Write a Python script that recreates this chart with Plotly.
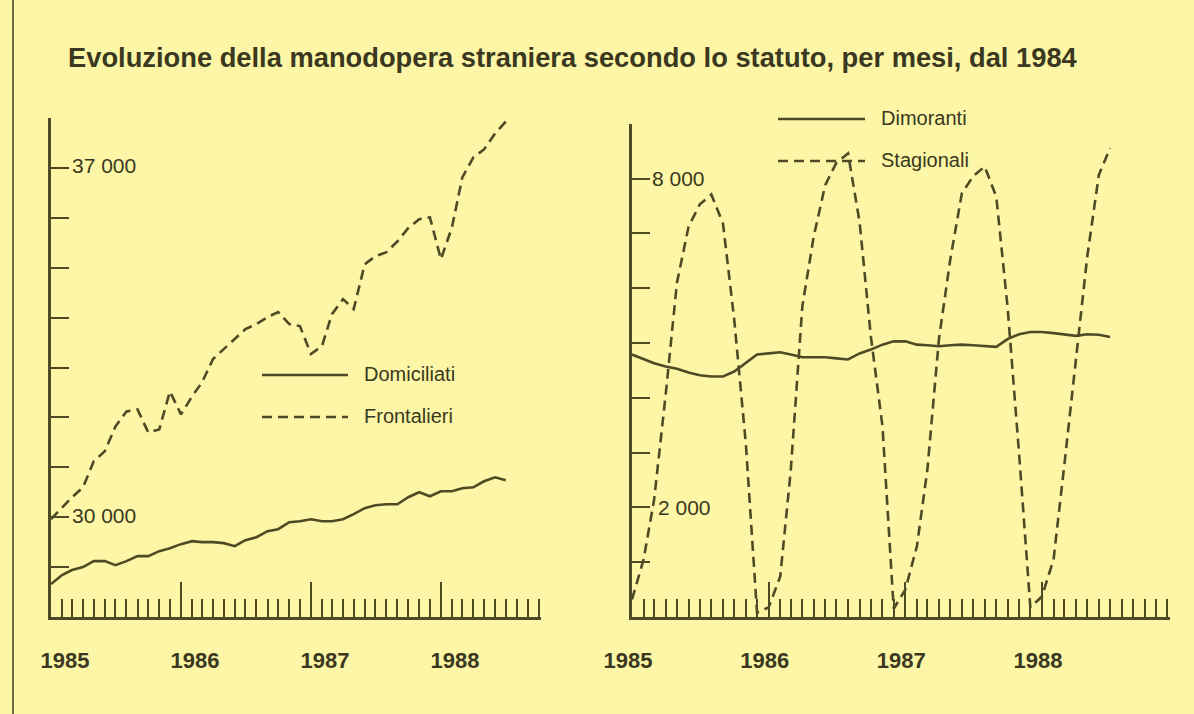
import pandas as pd
import plotly.graph_objects as go
from plotly.subplots import make_subplots


# Data (monthly, Jan 1985 - Jul 1988)
months = pd.date_range("1985-01-01", periods=43, freq="MS").strftime("%Y-%m-%d").tolist()

# left panel: Domiciliati / Frontalieri
domiciliati = [28660, 28840, 28940, 29000, 29120, 29120, 29040, 29120, 29220, 29220, 29320, 29380,
               29460, 29520, 29500, 29500, 29480, 29420, 29540, 29600, 29720, 29760, 29900, 29920,
               29960, 29920, 29920, 29960, 30060, 30180, 30240, 30260, 30260, 30400, 30500, 30420,
               30520, 30520, 30580, 30600, 30720, 30800, 30740]
frontalieri = [29960, 30200, 30400, 30600, 31120, 31320, 31820, 32120, 32160, 31700, 31760, 32520,
               32060, 32420, 32700, 33170, 33370, 33570, 33770, 33870, 34010, 34110, 33870, 33830,
               33270, 33430, 34070, 34370, 34170, 35070, 35230, 35310, 35530, 35790, 35970, 36010,
               35170, 35810, 36810, 37210, 37370, 37690, 37930]

# right panel: Dimoranti / Stagionali
dimoranti = [4790, 4700, 4630, 4570, 4530, 4460, 4410, 4390, 4390, 4480, 4640, 4790,
             4810, 4830, 4790, 4740, 4740, 4740, 4720, 4700, 4810, 4880, 4970, 5030,
             5030, 4970, 4960, 4940, 4960, 4970, 4960, 4940, 4930, 5070, 5160, 5200,
             5200, 5180, 5150, 5130, 5160, 5150, 5110]
stagionali = [320, 1050, 2140, 4060, 6100, 7120, 7530, 7710, 7180, 5430, 3170, 80,
              175, 740, 2670, 5670, 6930, 7880, 8290, 8460, 7200, 5120, 3480, 150,
              500, 1290, 2690, 5080, 6520, 7730, 8040, 8220, 7670, 5670, 2970, 175,
              375, 1050, 2790, 4710, 6580, 8070, 8560]

left_labels = {37000: "37 000", 30000: "30 000"}
right_labels = {8000: "8 000", 2000: "2 000"}

title = "Evoluzione della manodopera straniera secondo lo statuto, per mesi, dal 1984"

# Colors
bg = "#FCF6A6"
ink = "#4F4A26"
text_ink = "#3A3820"
dash = "10px,6px"
font = "Liberation Sans, Arial, sans-serif"

fig = make_subplots(rows=1, cols=2)

fig.add_trace(go.Scatter(x=months, y=domiciliati, mode="lines", name="Domiciliati",
                         line=dict(color=ink, width=2.6)), row=1, col=1)
fig.add_trace(go.Scatter(x=months, y=frontalieri, mode="lines", name="Frontalieri",
                         line=dict(color=ink, width=2.6, dash=dash)), row=1, col=1)
fig.add_trace(go.Scatter(x=months, y=dimoranti, mode="lines", name="Dimoranti",
                         line=dict(color=ink, width=2.6)), row=1, col=2)
fig.add_trace(go.Scatter(x=months, y=stagionali, mode="lines", name="Stagionali",
                         line=dict(color=ink, width=2.6, dash=dash)), row=1, col=2)

W, H = 1194, 714


def px(x):
    return x / W


def py(y):
    return (H - y) / H


# x axes: monthly minor ticks, taller yearly ticks
xcommon = dict(type="date", showgrid=False, zeroline=False, showline=True, linecolor=ink, linewidth=2.5,
               ticks="inside", ticklen=35, tickwidth=2, tickcolor=ink, dtick="M12", tick0="1985-01-01",
               tickformat="%Y", ticklabelstandoff=22, automargin=False,
               tickfont=dict(size=22, color=text_ink, family=font, weight="bold"),
               minor=dict(ticks="inside", dtick="M1", tick0="1985-01-01", ticklen=18, tickwidth=2,
                          tickcolor=ink, showgrid=False))
fig.update_xaxes(xcommon)
fig.update_xaxes(domain=[px(51), px(541)], range=["1985-01-01", "1988-10-08"],
                 ticklabelshift=14, row=1, col=1)
fig.update_xaxes(domain=[px(632), px(1170)], range=["1985-01-01", "1988-12-08"],
                 ticklabelshift=-4, row=1, col=2)

ycommon = dict(showgrid=False, zeroline=False, showline=True, linecolor=ink, linewidth=2.5,
               ticks="inside", ticklen=18, tickwidth=2, tickcolor=ink, dtick=1000,
               showticklabels=False, automargin=False)
fig.update_yaxes(ycommon)
fig.update_yaxes(domain=[py(617), py(118)], range=[28000, 38000], row=1, col=1)
fig.update_yaxes(domain=[py(617), py(123.8)], range=[0, 9000], row=1, col=2)

# y value labels sitting inside the axes
annotations = []
for v, t in left_labels.items():
    annotations.append(dict(text=t, xref="x domain", x=0, yref="y", y=v, xanchor="left", yanchor="middle",
                            xshift=19, yshift=2, showarrow=False,
                            font=dict(size=21, color=text_ink, family=font)))
for v, t in right_labels.items():
    annotations.append(dict(text=t, xref="x2 domain", x=0, yref="y2", y=v, xanchor="left", yanchor="middle",
                            xshift=18 if v == 8000 else 24, showarrow=False,
                            font=dict(size=21, color=text_ink, family=font)))

# Title
annotations.append(dict(text=title, xref="paper", yref="paper", x=px(66), y=py(57), xanchor="left",
                        yanchor="middle", showarrow=False,
                        font=dict(size=27.3, color=text_ink, family=font, weight="bold")))

# hand-drawn legends
shapes = []
legend_items = [("Domiciliati", None, 262, 348, 375), ("Frontalieri", dash, 262, 348, 417),
                ("Dimoranti", None, 778, 865, 119), ("Stagionali", dash, 778, 865, 161)]
for name, d, x0, x1, y in legend_items:
    shapes.append(dict(type="line", xref="paper", yref="paper", x0=px(x0), x1=px(x1), y0=py(y), y1=py(y),
                       line=dict(color=ink, width=2.5, dash=d if d else "solid")))
    annotations.append(dict(text=name, xref="paper", yref="paper", x=px(x1 + 14), y=py(y - 1),
                            xanchor="left", yanchor="middle", showarrow=False,
                            font=dict(size=20, color=text_ink, family=font)))

# page frame line on the left
shapes.append(dict(type="line", xref="paper", yref="paper", x0=px(13), x1=px(13), y0=0, y1=1,
                   line=dict(color="#6E6942", width=2)))

fig.update_layout(width=W, height=H, margin=dict(l=0, r=0, t=0, b=0, autoexpand=False),
                  paper_bgcolor=bg, plot_bgcolor=bg, showlegend=False,
                  annotations=annotations, shapes=shapes)

fig.write_html("out.html", config={"displayModeBar": False},
               post_script="document.body.style.margin='0';")
